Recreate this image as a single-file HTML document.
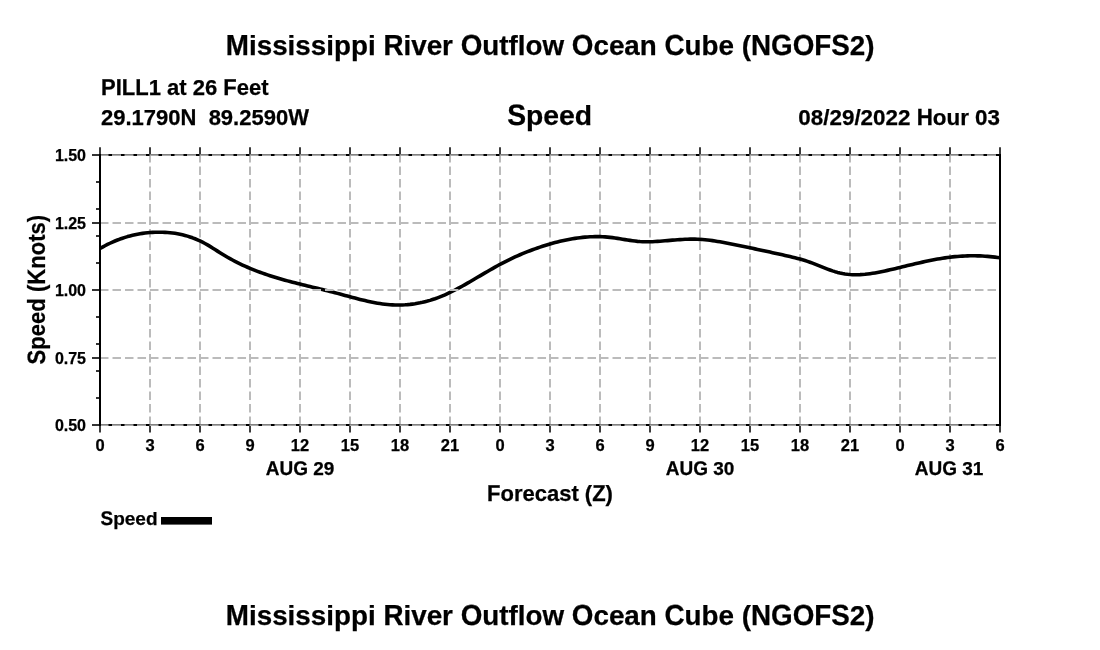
<!DOCTYPE html>
<html><head><meta charset="utf-8"><title>Speed</title><style>html,body{margin:0;padding:0;background:#fff;width:1100px;height:650px;overflow:hidden}svg{display:block;filter:grayscale(1)}text{stroke:#000;stroke-width:0.25px;font-family:"Liberation Sans",sans-serif;font-weight:bold;fill:#000}</style></head><body>
<svg width="1100" height="650" viewBox="0 0 1100 650">
<rect width="1100" height="650" fill="#fff"></rect>
<path d="M150 425V155M200 425V155M250 425V155M300 425V155M350 425V155M400 425V155M450 425V155M500 425V155M550 425V155M600 425V155M650 425V155M700 425V155M750 425V155M800 425V155M850 425V155M900 425V155M950 425V155" stroke="#bbb" stroke-width="2" stroke-dasharray="8.5 4" fill="none"></path>
<path d="M100 248.54 L102.5 247.11 L105 245.75 L107.5 244.46 L110 243.25 L112.5 242.10 L115 241.02 L117.5 240.01 L120 239.06 L122.5 238.18 L125 237.37 L127.5 236.61 L130 235.92 L132.5 235.29 L135 234.73 L137.5 234.22 L140 233.77 L142.5 233.38 L145 233.05 L147.5 232.77 L150 232.55 L152.5 232.39 L155 232.28 L157.5 232.22 L160 232.21 L162.5 232.25 L165 232.35 L167.5 232.51 L170 232.72 L172.5 233.00 L175 233.34 L177.5 233.75 L180 234.23 L182.5 234.79 L185 235.42 L187.5 236.13 L190 236.93 L192.5 237.81 L195 238.77 L197.5 239.82 L200 240.96 L202.5 242.18 L205 243.49 L207.5 244.88 L210 246.35 L212.5 247.91 L215 249.51 L217.5 251.13 L220 252.74 L222.5 254.29 L225 255.80 L227.5 257.25 L230 258.66 L232.5 260.02 L235 261.33 L237.5 262.60 L240 263.83 L242.5 265.01 L245 266.16 L247.5 267.26 L250 268.33 L252.5 269.37 L255 270.36 L257.5 271.33 L260 272.27 L262.5 273.17 L265 274.05 L267.5 274.90 L270 275.72 L272.5 276.52 L275 277.29 L277.5 278.05 L280 278.78 L282.5 279.50 L285 280.20 L287.5 280.88 L290 281.55 L292.5 282.20 L295 282.84 L297.5 283.48 L300 284.10 L302.5 284.72 L305 285.33 L307.5 285.94 L310 286.54 L312.5 287.14 L315 287.74 L317.5 288.34 L320 288.95 L322.5 289.56 L325 290.17 L327.5 290.79 L330 291.42 L332.5 292.06 L335 292.71 L337.5 293.37 L340 294.05 L342.5 294.72 L345 295.41 L347.5 296.09 L350 296.76 L352.5 297.44 L355 298.10 L357.5 298.75 L360 299.39 L362.5 300.00 L365 300.60 L367.5 301.17 L370 301.72 L372.5 302.23 L375 302.71 L377.5 303.15 L380 303.56 L382.5 303.92 L385 304.23 L387.5 304.49 L390 304.71 L392.5 304.86 L395 304.97 L397.5 305.01 L400 305.00 L402.5 304.93 L405 304.81 L407.5 304.63 L410 304.39 L412.5 304.09 L415 303.74 L417.5 303.32 L420 302.85 L422.5 302.32 L425 301.72 L427.5 301.07 L430 300.36 L432.5 299.58 L435 298.75 L437.5 297.85 L440 296.89 L442.5 295.87 L445 294.80 L447.5 293.67 L450 292.48 L452.5 291.25 L455 289.98 L457.5 288.68 L460 287.33 L462.5 285.96 L465 284.56 L467.5 283.14 L470 281.70 L472.5 280.24 L475 278.78 L477.5 277.30 L480 275.83 L482.5 274.35 L485 272.89 L487.5 271.43 L490 269.98 L492.5 268.56 L495 267.15 L497.5 265.77 L500 264.42 L502.5 263.10 L505 261.81 L507.5 260.56 L510 259.33 L512.5 258.15 L515 256.99 L517.5 255.86 L520 254.77 L522.5 253.70 L525 252.67 L527.5 251.67 L530 250.70 L532.5 249.76 L535 248.85 L537.5 247.97 L540 247.12 L542.5 246.29 L545 245.50 L547.5 244.74 L550 244.00 L552.5 243.29 L555 242.61 L557.5 241.96 L560 241.35 L562.5 240.76 L565 240.21 L567.5 239.70 L570 239.22 L572.5 238.77 L575 238.37 L577.5 238.01 L580 237.68 L582.5 237.40 L585 237.16 L587.5 236.96 L590 236.81 L592.5 236.70 L595 236.64 L597.5 236.63 L600 236.67 L602.5 236.76 L605 236.90 L607.5 237.10 L610 237.35 L612.5 237.65 L615 237.99 L617.5 238.37 L620 238.77 L622.5 239.19 L625 239.60 L627.5 240.01 L630 240.40 L632.5 240.76 L635 241.08 L637.5 241.35 L640 241.56 L642.5 241.70 L645 241.78 L647.5 241.79 L650 241.76 L652.5 241.68 L655 241.56 L657.5 241.40 L660 241.22 L662.5 241.02 L665 240.81 L667.5 240.59 L670 240.37 L672.5 240.16 L675 239.96 L677.5 239.77 L680 239.59 L682.5 239.45 L685 239.32 L687.5 239.23 L690 239.17 L692.5 239.15 L695 239.17 L697.5 239.23 L700 239.35 L702.5 239.52 L705 239.73 L707.5 240.00 L710 240.30 L712.5 240.64 L715 241.02 L717.5 241.42 L720 241.85 L722.5 242.30 L725 242.77 L727.5 243.25 L730 243.74 L732.5 244.23 L735 244.73 L737.5 245.24 L740 245.74 L742.5 246.26 L745 246.77 L747.5 247.29 L750 247.81 L752.5 248.34 L755 248.87 L757.5 249.40 L760 249.94 L762.5 250.48 L765 251.02 L767.5 251.56 L770 252.10 L772.5 252.65 L775 253.19 L777.5 253.74 L780 254.29 L782.5 254.84 L785 255.40 L787.5 255.97 L790 256.55 L792.5 257.15 L795 257.77 L797.5 258.42 L800 259.11 L802.5 259.83 L805 260.59 L807.5 261.40 L810 262.26 L812.5 263.17 L815 264.13 L817.5 265.11 L820 266.11 L822.5 267.11 L825 268.09 L827.5 269.06 L830 269.98 L832.5 270.85 L835 271.65 L837.5 272.38 L840 273.01 L842.5 273.54 L845 273.96 L847.5 274.29 L850 274.53 L852.5 274.68 L855 274.75 L857.5 274.74 L860 274.66 L862.5 274.51 L865 274.30 L867.5 274.03 L870 273.71 L872.5 273.34 L875 272.92 L877.5 272.47 L880 271.99 L882.5 271.47 L885 270.93 L887.5 270.37 L890 269.80 L892.5 269.22 L895 268.63 L897.5 268.03 L900 267.43 L902.5 266.83 L905 266.22 L907.5 265.62 L910 265.02 L912.5 264.42 L915 263.84 L917.5 263.25 L920 262.68 L922.5 262.12 L925 261.57 L927.5 261.04 L930 260.52 L932.5 260.03 L935 259.55 L937.5 259.09 L940 258.66 L942.5 258.25 L945 257.87 L947.5 257.52 L950 257.20 L952.5 256.91 L955 256.65 L957.5 256.43 L960 256.24 L962.5 256.08 L965 255.95 L967.5 255.86 L970 255.80 L972.5 255.78 L975 255.79 L977.5 255.84 L980 255.92 L982.5 256.03 L985 256.18 L987.5 256.37 L990 256.59 L992.5 256.85 L995 257.14 L997.5 257.47 L1000 257.83" stroke="#000" stroke-width="3.6" fill="none" stroke-linejoin="round"></path>
<path d="M100 223H1000M100 290H1000M100 358H1000" stroke="#bbb" stroke-width="2" stroke-dasharray="8.5 4" fill="none"></path>
<path d="M100 154.5H1000M100 424.5H1000" stroke="#808080" stroke-width="1"></path>
<path d="M100 155.5H1000M100 425.5H1000" stroke="#aaa" stroke-width="1"></path>
<path d="M108.5 155H1000M108.5 425H1000" stroke="#000" stroke-width="2" stroke-dasharray="3.5 9"></path>
<path d="M100 154V426M1000 154V426" stroke="#000" stroke-width="2"></path>
<path d="M100 147.3V154M100 426V432.6M1000 147.3V154M1000 426V432.6" stroke="#3c3c3c" stroke-width="2"></path>
<path d="M150 147.3V154M150 426V432.6M200 147.3V154M200 426V432.6M250 147.3V154M250 426V432.6M300 147.3V154M300 426V432.6M350 147.3V154M350 426V432.6M400 147.3V154M400 426V432.6M450 147.3V154M450 426V432.6M500 147.3V154M500 426V432.6M550 147.3V154M550 426V432.6M600 147.3V154M600 426V432.6M650 147.3V154M650 426V432.6M700 147.3V154M700 426V432.6M750 147.3V154M750 426V432.6M800 147.3V154M800 426V432.6M850 147.3V154M850 426V432.6M900 147.3V154M900 426V432.6M950 147.3V154M950 426V432.6" stroke="#3c3c3c" stroke-width="2"></path>
<path d="M92 155H99M92 223H99M92 290H99M92 358H99M92 425H99" stroke="#333" stroke-width="2"></path>
<path d="M96 182H99M96 209H99M96 236H99M96 263H99M96 317H99M96 344H99M96 371H99M96 398H99" stroke="#333" stroke-width="2"></path>
<g><text font-size="27.8" transform="translate(550.2 55)" x="-301.22 -293.48 -278.03 -262.58 -254.84 -239.39 -223.92 -216.2 -199.23 -182.25 -146.73 -139 -123.55 -108.09 -67.92 -50.94 -41.69 -32.44 -24.7 -7.73 43.23 58.69 74.16 89.61 134.39 151.38 168.34 191.53 299.63 315.08">ississippiiverutflowceanube(2)</text><text font-size="27.8" transform="translate(550.2 55) scale(1 1.044)" x="-324.36 -166.8 -89.55 21.61 114.31 200.78 220.86 242.48 264.11 281.08" text-rendering="geometricPrecision">MROOCNGOFS</text></g>
<g><text font-size="27.8" transform="translate(550.2 625)" x="-301.22 -293.48 -278.03 -262.58 -254.84 -239.39 -223.92 -216.2 -199.23 -182.25 -146.73 -139 -123.55 -108.09 -67.92 -50.94 -41.69 -32.44 -24.7 -7.73 43.23 58.69 74.16 89.61 134.39 151.38 168.34 191.53 299.63 315.08">ississippiiverutflowceanube(2)</text><text font-size="27.8" transform="translate(550.2 625) scale(1 1.044)" x="-324.36 -166.8 -89.55 21.61 114.31 200.78 220.86 242.48 264.11 281.08" text-rendering="geometricPrecision">MROOCNGOFS</text></g>
<g><text font-size="22" transform="translate(101 94.5)" x="47.66 66 78.23 91.67 103.91 135.7 147.94 160.17">1at26eet</text><text font-size="22" transform="translate(101 94.5) scale(1 1.044)" x="0 14.67 20.78 34.22 122.27" text-rendering="geometricPrecision">PILLF</text></g>
<g><text font-size="22" transform="translate(101 124.8)" x="0 12.23 24.47 30.58 42.81 55.05 67.28 107.63 119.86 132.09 138.22 150.45 162.69 174.92">29.179089.2590</text><text font-size="22" transform="translate(101 124.8) scale(1 1.044)" x="79.52 187.16" text-rendering="geometricPrecision">NW</text></g>
<g><text font-size="28.3" transform="translate(549.6 125)" x="-23.6 -6.3 9.43 25.16">peed</text><text font-size="28.3" transform="translate(549.6 125) scale(1 1.044)" x="-42.46" text-rendering="geometricPrecision">S</text></g>
<g><text font-size="22.4" transform="translate(1000 124.8)" x="-201.66 -189.22 -176.77 -170.53 -158.08 -145.62 -139.41 -126.95 -114.5 -102.05 -67.2 -53.53 -39.86 -24.92 -12.47">08/29/2022our03</text><text font-size="22.4" transform="translate(1000 124.8) scale(1 1.044)" x="-83.37" text-rendering="geometricPrecision">H</text></g>
<g><text font-size="16" transform="translate(86 160.8)" x="-31.14 -22.25 -17.8 -8.91">1.50</text></g>
<g><text font-size="16" transform="translate(86 228.8)" x="-31.14 -22.25 -17.8 -8.91">1.25</text></g>
<g><text font-size="16" transform="translate(86 295.8)" x="-31.14 -22.25 -17.8 -8.91">1.00</text></g>
<g><text font-size="16" transform="translate(86 363.8)" x="-31.14 -22.25 -17.8 -8.91">0.75</text></g>
<g><text font-size="16" transform="translate(86 430.8)" x="-31.14 -22.25 -17.8 -8.91">0.50</text></g>
<g><text font-size="16.5" transform="translate(100 451.1)" x="-4.59">0</text></g>
<g><text font-size="16.5" transform="translate(150 451.1)" x="-4.59">3</text></g>
<g><text font-size="16.5" transform="translate(200 451.1)" x="-4.59">6</text></g>
<g><text font-size="16.5" transform="translate(250 451.1)" x="-4.59">9</text></g>
<g><text font-size="16.5" transform="translate(300 451.1)" x="-9.18 -0.01">12</text></g>
<g><text font-size="16.5" transform="translate(350 451.1)" x="-9.18 -0.01">15</text></g>
<g><text font-size="16.5" transform="translate(400 451.1)" x="-9.18 -0.01">18</text></g>
<g><text font-size="16.5" transform="translate(450 451.1)" x="-9.18 -0.01">21</text></g>
<g><text font-size="16.5" transform="translate(500 451.1)" x="-4.59">0</text></g>
<g><text font-size="16.5" transform="translate(550 451.1)" x="-4.59">3</text></g>
<g><text font-size="16.5" transform="translate(600 451.1)" x="-4.59">6</text></g>
<g><text font-size="16.5" transform="translate(650 451.1)" x="-4.59">9</text></g>
<g><text font-size="16.5" transform="translate(700 451.1)" x="-9.18 -0.01">12</text></g>
<g><text font-size="16.5" transform="translate(750 451.1)" x="-9.18 -0.01">15</text></g>
<g><text font-size="16.5" transform="translate(800 451.1)" x="-9.18 -0.01">18</text></g>
<g><text font-size="16.5" transform="translate(850 451.1)" x="-9.18 -0.01">21</text></g>
<g><text font-size="16.5" transform="translate(900 451.1)" x="-4.59">0</text></g>
<g><text font-size="16.5" transform="translate(950 451.1)" x="-4.59">3</text></g>
<g><text font-size="16.5" transform="translate(1000 451.1)" x="-4.59">6</text></g>
<g><text font-size="19" transform="translate(300 475)" x="13.18 23.74">29</text><text font-size="19" transform="translate(300 475) scale(1 1.044)" x="-34.32 -20.6 -6.88" text-rendering="geometricPrecision">AUG</text></g>
<g><text font-size="19" transform="translate(700 475)" x="13.18 23.74">30</text><text font-size="19" transform="translate(700 475) scale(1 1.044)" x="-34.32 -20.6 -6.88" text-rendering="geometricPrecision">AUG</text></g>
<g><text font-size="19" transform="translate(949 475)" x="13.18 23.74">31</text><text font-size="19" transform="translate(949 475) scale(1 1.044)" x="-34.32 -20.6 -6.88" text-rendering="geometricPrecision">AUG</text></g>
<g><text font-size="22" transform="translate(550 500.5)" x="-49.52 -36.09 -27.52 -15.29 -3.05 9.18 21.41 34.85 55.62">orecast()</text><text font-size="22" transform="translate(550 500.5) scale(1 1.044)" x="-62.96 42.18" text-rendering="geometricPrecision">FZ</text></g>
<g><text font-size="19" transform="translate(100.5 524.9)" x="12.67 24.27 34.84 45.41">peed</text><text font-size="19" transform="translate(100.5 524.9) scale(1 1.044)" x="0" text-rendering="geometricPrecision">S</text></g>
<rect x="161" y="517" width="51" height="7.6" fill="#000"></rect>
<g><text font-size="24" transform="translate(44.9 289.6) rotate(-90) scale(0.92 1)" x="-65.31 -50.66 -37.3 -23.97 -2.65 22.65 37.3 51.96 59.94 73.29">peed(nots)</text><text font-size="24" transform="translate(44.9 289.6) rotate(-90) scale(0.92 1) scale(1 1.044)" x="-81.29 5.33" text-rendering="geometricPrecision">SK</text></g>
</svg></body></html>
